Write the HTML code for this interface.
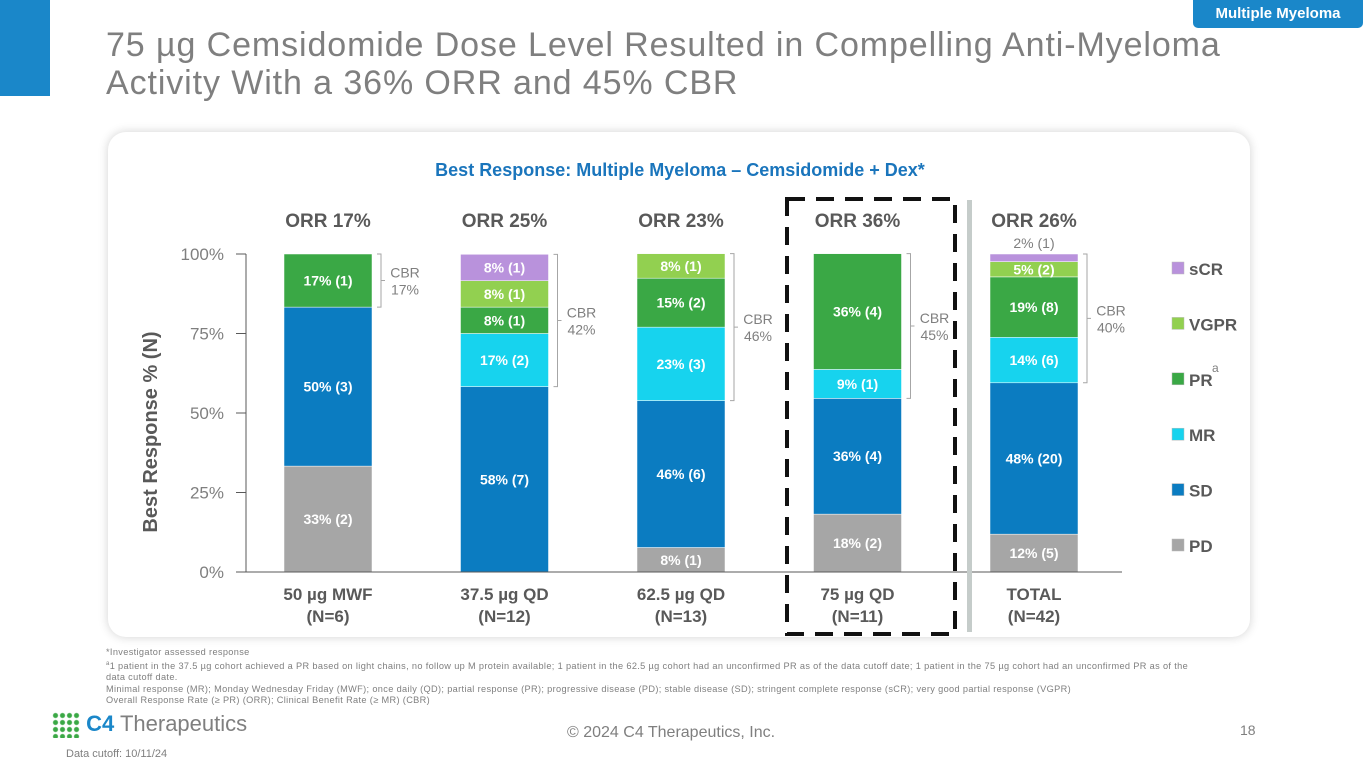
<!DOCTYPE html>
<html><head><meta charset="utf-8"><style>
body{margin:0;width:1365px;height:768px;position:relative;background:#fff;font-family:"Liberation Sans",sans-serif;overflow:hidden}
.abs{position:absolute}
</style></head><body>
<div class="abs" style="left:0;top:0;width:50px;height:96px;background:#1a87c9"></div>
<div class="abs" style="left:106px;top:26px;font-size:34px;line-height:38px;color:#7f7f7f;letter-spacing:0.9px;white-space:nowrap">75 µg Cemsidomide Dose Level Resulted in Compelling Anti-Myeloma<br>Activity With a 36% ORR and 45% CBR</div>
<div class="abs" style="left:1193px;top:0;width:170px;height:28px;background:#1a87c9;color:#fff;font-weight:bold;font-size:15px;text-align:center;line-height:28px;border-radius:0 0 5px 5px">Multiple Myeloma</div>
<div class="abs" style="left:108px;top:132px;width:1142px;height:505px;background:#fff;border-radius:18px;box-shadow:0 0 10px rgba(0,0,0,0.18)"></div>
<svg class="abs" style="left:0;top:0" width="1365" height="768" id="chart"></svg>
<div class="abs" style="left:106px;top:647px;font-size:9.2px;line-height:11.5px;color:#7f7f7f;width:1140px;letter-spacing:0.35px">*Investigator assessed response<br><sup style="font-size:6px">a</sup>1 patient in the 37.5 µg cohort achieved a PR based on light chains, no follow up M protein available; 1 patient in the 62.5 µg cohort had an unconfirmed PR as of the data cutoff date; 1 patient in the 75 µg cohort had an unconfirmed PR as of the<br>data cutoff date.<br>Minimal response (MR); Monday Wednesday Friday (MWF); once daily (QD); partial response (PR); progressive disease (PD); stable disease (SD); stringent complete response (sCR); very good partial response (VGPR)<br>Overall Response Rate (≥ PR) (ORR); Clinical Benefit Rate (≥ MR) (CBR)</div>
<div class="abs" style="left:52px;top:711px;font-size:22px;color:#7f7f7f;white-space:nowrap"><span style="display:inline-block;width:28px;height:26px;background:radial-gradient(circle,#3aa845 2px,transparent 3px) 0 0/7px 7px;vertical-align:middle"></span> <b style="color:#1a87c9">C4</b> Therapeutics</div>
<div class="abs" style="left:66px;top:748px;font-size:11px;color:#7f7f7f">Data cutoff: 10/11/24</div>
<div class="abs" style="left:567px;top:724px;font-size:16px;color:#7f7f7f">© 2024 C4 Therapeutics, Inc.</div>
<div class="abs" style="left:1240px;top:722px;font-size:14px;color:#7f7f7f">18</div>
<script>
const categories=["50 µg MWF","37.5 µg QD","62.5 µg QD","75 µg QD","TOTAL"];
const ns=["(N=6)","(N=12)","(N=13)","(N=11)","(N=42)"];
const orr=["ORR 17%","ORR 25%","ORR 23%","ORR 36%","ORR 26%"];
const cbr=["17%","42%","46%","45%","40%"];
const seriesNames=["PD","SD","MR","PR","VGPR","sCR"];
const legendNames=["sCR","VGPR","PR","MR","SD","PD"];
const PD=[33.3,0,7.7,18.2,11.9];
const SD=[50,58.3,46.2,36.4,47.6];
const MR=[0,16.7,23.1,9.1,14.3];
const PR=[16.7,8.3,15.4,36.4,19.0];
const VGPR=[0,8.3,7.7,0,4.8];
const sCR=[0,8.3,0,0,2.4];
const labPD=["33% (2)","","8% (1)","18% (2)","12% (5)"];
const labSD=["50% (3)","58% (7)","46% (6)","36% (4)","48% (20)"];
const labMR=["","17% (2)","23% (3)","9% (1)","14% (6)"];
const labPR=["17% (1)","8% (1)","15% (2)","36% (4)","19% (8)"];
const labVGPR=["","8% (1)","8% (1)","","5% (2)"];
const labSCR=["","8% (1)","","","2% (1)"];
const yTicks=[0,25,50,75,100];
const colors={PD:"#a6a6a6",SD:"#0b7cc1",MR:"#17d3ee",PR:"#3aa845",VGPR:"#92d050",sCR:"#b992dc"};
const series=[PD,SD,MR,PR,VGPR,sCR];
const labels=[labPD,labSD,labMR,labPR,labVGPR,labSCR];
const svg=document.getElementById('chart');
const NS="http://www.w3.org/2000/svg";
const y0=572,y1=254,step=176.5,bw=88;
const y=v=>y0-(y0-y1)*v/100;
const xc=i=>328+i*step;
function mk(t,a,txt){const e=document.createElementNS(NS,t);for(const k in a)e.setAttribute(k,a[k]);if(txt!==undefined)e.textContent=txt;svg.appendChild(e);return e;}
let e;
e=mk('text',{x:680,y:176,'text-anchor':'middle','font-size':18,'font-weight':'bold',fill:'#1a75bc','font-family':'Liberation Sans'},'Best Response: Multiple Myeloma – Cemsidomide + Dex*');

yTicks.forEach(t=>{
 e=mk('line',{x1:236,x2:246,y1:y(t),y2:y(t),stroke:'#595959'});
 
 e=mk('text',{x:224,y:y(t)+6,'text-anchor':'end','font-size':17,fill:'#7f7f7f','font-family':'Liberation Sans'},t+'%');
 
});
e=mk('line',{x1:246,x2:246,y1:y(0),y2:y(100),stroke:'#595959'});

e=mk('text',{x:0,y:0,transform:'translate(157,432) rotate(-90)','text-anchor':'middle','font-size':20,'font-weight':'bold',fill:'#595959','font-family':'Liberation Sans'},'Best Response % (N)');

categories.forEach((c,i)=>{
 let acc=0;const cx=xc(i);
 series.forEach((s,k)=>{
  const v=s[i];if(v<=0)return;
  const top=y(acc+v),bot=y(acc);
  e=mk('rect',{x:cx-bw/2,y:top,width:bw,height:bot-top,fill:colors[seriesNames[k]],stroke:'#fff','stroke-width':0.5});
  
  const lab=labels[k][i];
  if(lab){
   if(v<4){e=mk('text',{x:cx,y:top-6,'text-anchor':'middle','font-size':14,fill:'#7f7f7f','font-family':'Liberation Sans'},lab);}
   else{e=mk('text',{x:cx,y:(top+bot)/2+5,'text-anchor':'middle','font-size':14,'font-weight':'bold',fill:'#fff','font-family':'Liberation Sans'},lab);}
   
  }
  acc+=v;
 });
 const sdTop=y(PD[i]+SD[i]),tp=y(acc);
 const bx=cx+bw/2+5,mid=(sdTop+tp)/2;
 e=mk('path',{d:`M${bx} ${tp}H${bx+4}V${sdTop}H${bx} M${bx+4} ${mid}H${bx+8}`,fill:'none',stroke:'#a6a6a6'});
 
 e=mk('text',{x:bx+28,y:mid-3,'text-anchor':'middle','font-size':14,fill:'#7f7f7f','font-family':'Liberation Sans'},'CBR');
 
 e=mk('text',{x:bx+28,y:mid+14,'text-anchor':'middle','font-size':14,fill:'#7f7f7f','font-family':'Liberation Sans'},cbr[i]);
 
 e=mk('text',{x:cx,y:227,'text-anchor':'middle','font-size':19,'font-weight':'bold',fill:'#595959','font-family':'Liberation Sans'},orr[i]);
 
 e=mk('text',{x:cx,y:600,'text-anchor':'middle','font-size':17,'font-weight':'bold',fill:'#595959','font-family':'Liberation Sans'},c);
 
 e=mk('text',{x:cx,y:622,'text-anchor':'middle','font-size':17,'font-weight':'bold',fill:'#595959','font-family':'Liberation Sans'},ns[i]);
 
});
e=mk('line',{x1:246,x2:1122,y1:y(0),y2:y(0),stroke:'#595959'});

e=mk('rect',{x:787,y:199,width:168,height:435,fill:'none',stroke:'#111','stroke-width':4,'stroke-dasharray':'18,11'});

e=mk('rect',{x:967,y:200,width:5,height:432,fill:'#c5ccca'});

legendNames.forEach((n,j)=>{
 const ly=268+j*55.4;
 e=mk('rect',{x:1172,y:ly-6,width:12,height:12,fill:colors[n],stroke:'#bbb','stroke-width':0.5});
 
 e=mk('text',{x:1189,y:ly+7,'font-size':17,'font-weight':'bold',fill:'#595959','font-family':'Liberation Sans'},n);
 
});
e=mk('text',{x:1212,y:372,'font-size':12,fill:'#7f7f7f','font-family':'Liberation Sans'},'a');

</script>
</body></html>
